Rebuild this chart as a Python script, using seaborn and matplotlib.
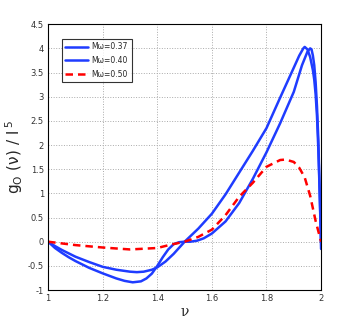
import numpy as np
import pandas as pd
import seaborn as sns
import matplotlib.pyplot as plt

# values
nu_a = [1.0, 1.025, 1.05, 1.075, 1.1, 1.15, 1.2, 1.25, 1.28, 1.31, 1.34, 1.36, 1.38, 1.4, 1.42,
        1.44, 1.46, 1.48, 1.5, 1.52, 1.545, 1.57, 1.6, 1.65, 1.7, 1.75, 1.8, 1.85, 1.9, 1.93,
        1.95, 1.96, 1.965, 1.97, 1.975, 1.98, 1.985, 1.99, 1.995, 2.0]
g_a = [0.0, -0.13, -0.23, -0.32, -0.40, -0.54, -0.655, -0.76, -0.81, -0.84, -0.82, -0.76, -0.66, -0.5, -0.32,
       -0.16, -0.05, -0.01, 0.0, 0.0, 0.02, 0.07, 0.17, 0.42, 0.8, 1.3, 1.85, 2.45, 3.1, 3.65,
       3.93, 4.0, 3.98, 3.85, 3.65, 3.3, 2.8, 2.1, 1.0, -0.15]

nu_b = [1.0, 1.025, 1.05, 1.075, 1.1, 1.15, 1.2, 1.25, 1.3, 1.325, 1.35, 1.38, 1.4, 1.43, 1.46,
        1.5, 1.55, 1.6, 1.65, 1.7, 1.75, 1.8, 1.85, 1.9, 1.92, 1.935, 1.94, 1.95, 1.96, 1.97,
        1.975, 1.98, 1.985, 1.99, 1.995, 2.0]
g_b = [0.0, -0.09, -0.17, -0.24, -0.31, -0.42, -0.52, -0.58, -0.62, -0.63, -0.62, -0.58, -0.53, -0.41, -0.25,
       0.0, 0.27, 0.58, 0.98, 1.43, 1.88, 2.35, 2.98, 3.6, 3.85, 4.0, 4.03, 3.98, 3.82, 3.55,
       3.35, 3.05, 2.6, 1.9, 1.0, 0.0]

nu_c = [1.0, 1.1, 1.2, 1.3, 1.4, 1.45, 1.5, 1.55, 1.6, 1.65, 1.7, 1.75, 1.8, 1.85, 1.87, 1.9,
        1.92, 1.94, 1.96, 1.98, 2.0]
g_c = [0.0, -0.07, -0.12, -0.16, -0.13, -0.06, 0.0, 0.1, 0.25, 0.55, 0.93, 1.22, 1.55, 1.69, 1.7, 1.65,
       1.53, 1.33, 0.95, 0.43, 0.0]

labels = ["M\u03c9=0.37", "M\u03c9=0.40", "M\u03c9=0.50"]

df = pd.concat([
    pd.DataFrame({"nu": nu_a, "g": g_a, "case": labels[0]}),
    pd.DataFrame({"nu": nu_b, "g": g_b, "case": labels[1]}),
    pd.DataFrame({"nu": nu_c, "g": g_c, "case": labels[2]}),
])

sns.set_style("white")
plt.rcParams["font.family"] = ["DejaVu Sans"]

fig = plt.figure(figsize=(3.54, 3.27), dpi=100)
ax = fig.add_axes([0.136, 0.113, 0.771, 0.813])

sns.lineplot(data=df, x="nu", y="g", hue="case", style="case",
             palette=["#1f3cff", "#1f3cff", "#ff0000"],
             dashes=[(None, None), (None, None), (3, 2)],
             linewidth=1.8, sort=False, estimator=None, ax=ax)

ax.set_xlim(1, 2)
ax.set_ylim(-1, 4.5)
ax.set_xticks([1, 1.2, 1.4, 1.6, 1.8, 2])
ax.set_xticklabels(["1", "1.2", "1.4", "1.6", "1.8", "2"])
ax.set_yticks(np.arange(-1, 4.51, 0.5))
ax.set_yticklabels(["-1", "-0.5", "0", "0.5", "1", "1.5", "2", "2.5", "3", "3.5", "4", "4.5"])
ax.tick_params(direction="in", length=3, labelsize=6, colors="#333333", pad=3)
ax.grid(True, linestyle=":", color="#aaaaaa", linewidth=0.7)
for s in ax.spines.values():
    s.set_color("black")
    s.set_linewidth(0.8)

ax.set_xlabel("\u03bd", fontsize=10, family="DejaVu Serif", labelpad=1)
ax.set_ylabel("$\\mathregular{g_O\\ (\u03bd)\\ /\\ l^{\\ 5}}$", fontsize=11, labelpad=2)

leg = ax.legend(loc="upper left", bbox_to_anchor=(0.035, 0.96), fontsize=5.5,
                frameon=True, fancybox=False, edgecolor="black", handlelength=3.0,
                borderpad=0.5, labelspacing=0.6, handletextpad=0.4)
leg.get_frame().set_linewidth(0.8)
leg.set_title(None)

fig.savefig("out.png", dpi=100)
